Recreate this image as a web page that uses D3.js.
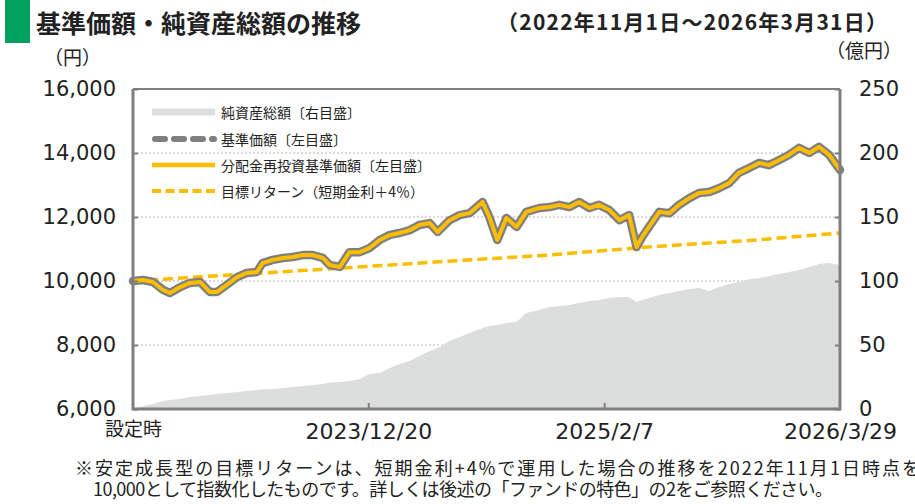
<!DOCTYPE html>
<html>
<head>
<meta charset="utf-8">
<script src="https://cdn.jsdelivr.net/npm/d3@7"></script>
<style>
  body { margin: 0; background: #fff; }
  svg { display: block; }
  text { font-family: "Noto Sans CJK JP", sans-serif; fill: #222; }
  .num { font-family: "DejaVu Sans", sans-serif; }
</style>
</head>
<body>
<svg id="chart" width="915" height="504"></svg>
<script>
// 基準価額 (円) / 純資産総額 (億円)
var dates = ["2022-11-01","2022-11-19","2022-12-06","2022-12-24","2023-01-05","2023-01-23","2023-02-09","2023-02-27",
  "2023-03-16","2023-03-29","2023-04-15","2023-05-03","2023-05-20","2023-06-07","2023-06-17","2023-07-05",
  "2023-07-23","2023-08-09","2023-08-27","2023-09-13","2023-10-01","2023-10-13","2023-10-31","2023-11-17",
  "2023-12-05","2023-12-22","2024-01-09","2024-01-27","2024-02-13","2024-03-02","2024-03-19","2024-04-06",
  "2024-04-20","2024-05-11","2024-05-29","2024-06-15","2024-07-08","2024-07-20","2024-08-03","2024-08-19",
  "2024-09-06","2024-09-23","2024-10-16","2024-11-03","2024-11-20","2024-12-08","2024-12-25","2025-01-12",
  "2025-01-29","2025-02-16","2025-03-06","2025-03-23","2025-04-05","2025-04-15","2025-04-27","2025-05-15",
  "2025-06-02","2025-06-19","2025-07-07","2025-07-24","2025-08-11","2025-08-28","2025-09-15","2025-10-02",
  "2025-10-20","2025-11-07","2025-11-24","2025-12-12","2025-12-29","2026-01-16","2026-02-03","2026-02-20",
  "2026-03-10","2026-03-29"];

var navValues = [10000,10030,9970,9720,9625,9810,9940,9970,
  9660,9660,9880,10120,10250,10280,10560,10660,
  10720,10750,10810,10810,10720,10500,10440,10900,
  10900,11030,11280,11440,11500,11590,11750,11810,
  11530,11900,12060,12120,12470,12000,11280,11970,
  11690,12160,12280,12310,12380,12310,12470,12280,
  12380,12220,11900,12060,11060,11380,11690,12160,
  12120,12380,12590,12750,12780,12900,13060,13380,
  13530,13690,13620,13780,13940,14160,14000,14190,
  13940,13470];

// 分配金再投資基準価額 (no distributions so far -> same as 基準価額)
var reinvestValues = navValues.slice();

var aumValues = [0,2.3,3.9,6.3,7.0,7.8,9.4,10.2,
  10.9,11.7,12.5,13.3,14.1,14.8,15.2,15.6,
  16.4,17.2,18.0,18.8,19.5,20.7,21.1,21.9,
  23.4,27.3,28.1,32.0,35.2,37.5,41.4,45.3,
  47.7,53.1,56.3,59.4,63.3,64.8,65.6,67.2,
  68.0,75.0,77.3,79.7,80.5,81.3,82.8,84.4,
  85.2,86.7,87.5,87.5,83.6,85.2,86.7,89.1,
  90.6,92.2,93.8,94.5,92.2,95.3,97.7,99.2,
  101.6,102.3,103.9,105.5,107.0,108.6,110.9,113.3,
  114.1,112.5];

// 目標リターン (短期金利+4%)
var targetDates = ["2022-11-01","2023-05-01","2023-11-01","2024-05-01","2024-11-01","2025-05-01","2025-11-01","2026-03-29"];
var targetValues = [10000,10200,10400,10610,10810,11070,11280,11500];

var xTickDates = ["2022-11-01","2023-12-20","2025-02-07","2026-03-29"];
var xTickLabels = ["設定時","2023/12/20","2025/2/7","2026/3/29"];
var leftTicks = [6000,8000,10000,12000,14000,16000];
var rightTicks = [0,50,100,150,200,250];

var legendLabels = ["純資産総額〔右目盛〕","基準価額〔左目盛〕","分配金再投資基準価額〔左目盛〕","目標リターン（短期金利＋4％）"];

var parseDate = d3.timeParse("%Y-%m-%d");
var svg = d3.select("#chart");
var plotL = 133, plotR = 840, plotT = 89, plotB = 409;
var gray = "#7f7f7f", yellow = "#fbbd00", areaCol = "#dcdddd";

var x = d3.scaleTime()
  .domain([parseDate(dates[0]), parseDate(dates[dates.length - 1])])
  .range([plotL, plotR]);
var yL = d3.scaleLinear().domain([6000, 16000]).range([plotB, plotT]);
var yR = d3.scaleLinear().domain([0, 250]).range([plotB, plotT]);

var series = dates.map((d, i) => ({date: parseDate(d), nav: navValues[i], re: reinvestValues[i], aum: aumValues[i]}));
var target = targetDates.map((d, i) => ({date: parseDate(d), v: targetValues[i]}));

// title
svg.append("rect").attr("x", 5).attr("y", 0).attr("width", 25).attr("height", 43).attr("fill", "#00a05e");
svg.append("text").attr("x", 36).attr("y", 22).attr("dominant-baseline", "central")
  .style("font-size", "25px").style("font-weight", "bold").text("基準価額・純資産総額の推移");
svg.append("text").attr("x", 497).attr("y", 21).attr("dominant-baseline", "central")
  .attr("textLength", 390).attr("lengthAdjust", "spacing")
  .style("font-size", "21px").style("font-weight", "bold").text("（2022年11月1日〜2026年3月31日）");
svg.append("text").attr("x", 44).attr("y", 56).attr("dominant-baseline", "central")
  .style("font-size", "19px").text("（円）");
svg.append("text").attr("x", 826).attr("y", 49).attr("dominant-baseline", "central")
  .style("font-size", "19px").text("（億円）");

// gridlines
svg.append("g").selectAll("line")
  .data(leftTicks.slice(1, -1))
  .join("line")
  .attr("x1", plotL).attr("x2", plotR)
  .attr("y1", d => yL(d)).attr("y2", d => yL(d))
  .attr("stroke", "#b4b4b4").attr("stroke-width", 1).style("stroke-dasharray", "2,2");

// 純資産総額 area
svg.append("path")
  .datum(series)
  .attr("fill", areaCol)
  .attr("d", d3.area().x(d => x(d.date)).y0(plotB).y1(d => yR(d.aum)));

// 目標リターン
svg.append("path")
  .datum(target)
  .attr("fill", "none").attr("stroke", yellow).attr("stroke-width", 3.5)
  .style("stroke-dasharray", "10,5")
  .attr("d", d3.line().x(d => x(d.date)).y(d => yL(d.v)));

// 基準価額 (gray) and 分配金再投資基準価額 (yellow)
svg.append("path")
  .datum(series)
  .attr("fill", "none").attr("stroke", gray).attr("stroke-width", 8.5)
  .attr("stroke-linejoin", "round").attr("stroke-linecap", "round")
  .attr("d", d3.line().x(d => x(d.date)).y(d => yL(d.nav)));
svg.append("path")
  .datum(series)
  .attr("fill", "none").attr("stroke", yellow).attr("stroke-width", 4)
  .attr("stroke-linejoin", "round")
  .attr("d", d3.line().x(d => x(d.date)).y(d => yL(d.re)));

// frame
svg.append("line").attr("x1", plotL).attr("x2", plotR).attr("y1", plotT).attr("y2", plotT)
  .attr("stroke", gray).attr("stroke-width", 2);
svg.append("path")
  .attr("d", `M${plotL},${plotT}V${plotB}H${plotR}V${plotT}`)
  .attr("fill", "none").attr("stroke", gray).attr("stroke-width", 3);

// left axis
var gl = svg.append("g").attr("transform", `translate(${plotL},0)`)
  .call(d3.axisLeft(yL).tickValues(leftTicks).tickSize(-5).tickPadding(17).tickFormat(d3.format(",")));
gl.select(".domain").remove();
gl.selectAll(".tick line").attr("stroke", gray).attr("stroke-width", 2);
gl.selectAll(".tick text").attr("class", "num").style("font-size", "21px").attr("fill", "#222");

// right axis
var gr = svg.append("g").attr("transform", `translate(${plotR},0)`)
  .call(d3.axisRight(yR).tickValues(rightTicks).tickSize(-5).tickPadding(19));
gr.select(".domain").remove();
gr.selectAll(".tick line").attr("stroke", gray).attr("stroke-width", 2);
gr.selectAll(".tick text").attr("class", "num").style("font-size", "21px").attr("fill", "#222");

// bottom axis
var gb = svg.append("g").attr("transform", `translate(0,${plotB})`)
  .call(d3.axisBottom(x).tickValues(xTickDates.map(parseDate)).tickSize(-6).tickPadding(14)
    .tickFormat((d, i) => xTickLabels[i]));
gb.select(".domain").remove();
gb.selectAll(".tick line").attr("stroke", gray).attr("stroke-width", 2)
  .attr("opacity", (d, i) => (i == 0 || i == xTickDates.length - 1) ? 0 : 1);
gb.selectAll(".tick text").attr("class", (d, i) => i == 0 ? null : "num")
  .style("font-size", (d, i) => i == 0 ? "19px" : "22px").attr("fill", "#222");

// legend
var legY = [112, 139, 165, 191];
var leg = svg.append("g");
leg.append("line").attr("x1", 152).attr("x2", 215).attr("y1", legY[0]).attr("y2", legY[0])
  .attr("stroke", areaCol).attr("stroke-width", 7);
leg.append("line").attr("x1", 155).attr("x2", 214).attr("y1", legY[1]).attr("y2", legY[1])
  .attr("stroke", gray).attr("stroke-width", 6).attr("stroke-linecap", "round").style("stroke-dasharray", "10,9");
leg.append("line").attr("x1", 152).attr("x2", 215).attr("y1", legY[2]).attr("y2", legY[2])
  .attr("stroke", yellow).attr("stroke-width", 4.5);
leg.append("line").attr("x1", 152).attr("x2", 215).attr("y1", legY[3]).attr("y2", legY[3])
  .attr("stroke", yellow).attr("stroke-width", 4).style("stroke-dasharray", "9,4.5");
leg.selectAll("text")
  .data(legendLabels)
  .join("text")
  .attr("x", 221).attr("y", (d, i) => legY[i]).attr("dominant-baseline", "central")
  .style("font-size", "14px").text(d => d);

// footnote
svg.append("text").attr("x", 75).attr("y", 467).attr("dominant-baseline", "central")
  .attr("textLength", 845).attr("lengthAdjust", "spacing")
  .style("font-size", "18px").text("※安定成長型の目標リターンは、短期金利+4%で運用した場合の推移を2022年11月1日時点を");
svg.append("text").attr("x", 93).attr("y", 488).attr("dominant-baseline", "central")
  .attr("textLength", 740).attr("lengthAdjust", "spacing")
  .style("font-size", "18px").text("10,000として指数化したものです。詳しくは後述の「ファンドの特色」の2をご参照ください。");
</script>
</body>
</html>
